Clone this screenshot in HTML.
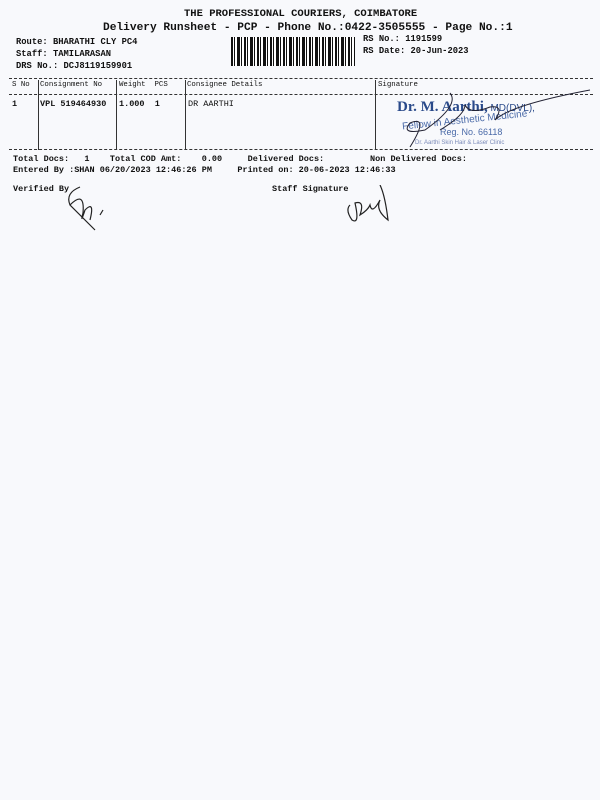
<!DOCTYPE html>
<html><head><meta charset="utf-8"><style>
body{margin:0;width:600px;height:800px;background:#f8f9fc;position:relative;overflow:hidden;font-family:"Liberation Mono",monospace;color:#111;}
.t{position:absolute;white-space:pre;font-weight:bold;line-height:1;}
.h{position:absolute;left:9px;width:584px;border-top:1px dashed #333;}
.v{position:absolute;top:80px;height:70px;border-left:1px solid #333;}
</style></head><body>
<div class="t" style="left:184px;top:9px;font-size:10.5px">THE PROFESSIONAL COURIERS, COIMBATORE</div>
<div class="t" style="left:103px;top:23px;font-size:11.2px">Delivery Runsheet - PCP - Phone No.:0422-3505555 - Page No.:1</div>
<div class="t" style="left:16px;top:38px;font-size:8.8px">Route: BHARATHI CLY PC4</div>
<div class="t" style="left:16px;top:50px;font-size:8.8px">Staff: TAMILARASAN</div>
<div class="t" style="left:16px;top:62px;font-size:8.8px">DRS No.: DCJ8119159901</div>
<div style="position:absolute;left:231px;top:37px;width:124px;height:29px;background:repeating-linear-gradient(90deg,#111 0 2px,#fff 2px 3px,#111 3px 4px,#fff 4px 6px,#111 6px 9px,#fff 9px 10px,#111 10px 11px,#fff 11px 13px)"></div>
<div class="t" style="left:363px;top:35px;font-size:8.8px">RS No.: 1191599</div>
<div class="t" style="left:363px;top:47px;font-size:8.8px">RS Date: 20-Jun-2023</div>
<div class="h" style="top:78px"></div>
<div class="t" style="left:12px;top:82px;font-size:7.4px;font-weight:normal">S No</div>
<div class="t" style="left:40px;top:82px;font-size:7.4px;font-weight:normal">Consignment No</div>
<div class="t" style="left:119px;top:82px;font-size:7.4px;font-weight:normal">Weight  PCS</div>
<div class="t" style="left:187px;top:82px;font-size:7.4px;font-weight:normal">Consignee Details</div>
<div class="t" style="left:378px;top:82px;font-size:7.4px;font-weight:normal">Signature</div>
<div class="h" style="top:94px"></div>
<div class="v" style="left:38px"></div><div class="v" style="left:116px"></div><div class="v" style="left:185px"></div><div class="v" style="left:375px"></div>
<div class="t" style="left:12px;top:100px;font-size:8.5px">1</div>
<div class="t" style="left:40px;top:100px;font-size:8.5px">VPL 519464930</div>
<div class="t" style="left:119px;top:100px;font-size:8.5px">1.000  1</div>
<div class="t" style="left:188px;top:100px;font-size:8.5px;font-weight:normal">DR AARTHI</div>
<div class="t" style="left:397px;top:100px;font-size:15px;color:#2a4a8a;font-family:'Liberation Serif',serif">Dr. M. Aarthi,<span style="font-size:10px;font-weight:normal;font-family:'Liberation Sans',sans-serif"> MD(DVL),</span></div>
<div class="t" style="left:402px;top:116px;font-size:10px;color:#4a6aa8;font-weight:normal;font-family:'Liberation Sans',sans-serif;transform:rotate(-6deg)">Fellow in Aesthetic Medicine</div>
<div class="t" style="left:440px;top:128px;font-size:9px;color:#4a6aa8;font-weight:normal;font-family:'Liberation Sans',sans-serif">Reg. No. 66118</div>
<div class="t" style="left:415px;top:140px;font-size:6px;color:#7a8ab8;font-weight:normal;font-family:'Liberation Sans',sans-serif">Dr. Aarthi Skin Hair &amp; Laser Clinic</div>
<svg style="position:absolute;left:370px;top:85px" width="230" height="70"><path d="M40 62 Q60 30 40 38 Q30 50 55 45 Q90 20 80 8 M70 45 Q95 30 95 20 Q100 30 120 22 Q135 20 125 35 Q140 20 220 5" fill="none" stroke="#223" stroke-width="1"/></svg>
<div class="h" style="top:149px"></div>
<div class="t" style="left:13px;top:155px;font-size:8.5px">Total Docs:   1    Total COD Amt:    0.00     Delivered Docs:         Non Delivered Docs:</div>
<div class="t" style="left:13px;top:166px;font-size:8.5px">Entered By :SHAN 06/20/2023 12:46:26 PM     Printed on: 20-06-2023 12:46:33</div>
<div class="t" style="left:13px;top:185px;font-size:8.5px">Verified By</div>
<div class="t" style="left:272px;top:185px;font-size:8.5px">Staff Signature</div>
<svg style="position:absolute;left:55px;top:185px" width="60" height="50"><path d="M25 2 Q10 8 15 20 L40 45 M15 20 Q30 5 28 28 Q25 40 30 25 Q40 15 35 35 M45 30 L48 25" fill="none" stroke="#222" stroke-width="1.2"/></svg>
<svg style="position:absolute;left:340px;top:185px" width="60" height="45"><path d="M10 20 Q5 25 12 35 Q20 40 15 18 Q25 15 20 30 Q28 25 30 20 Q32 30 40 15 Q35 25 48 35 Q45 10 40 0" fill="none" stroke="#222" stroke-width="1.2"/></svg>
</body></html>
